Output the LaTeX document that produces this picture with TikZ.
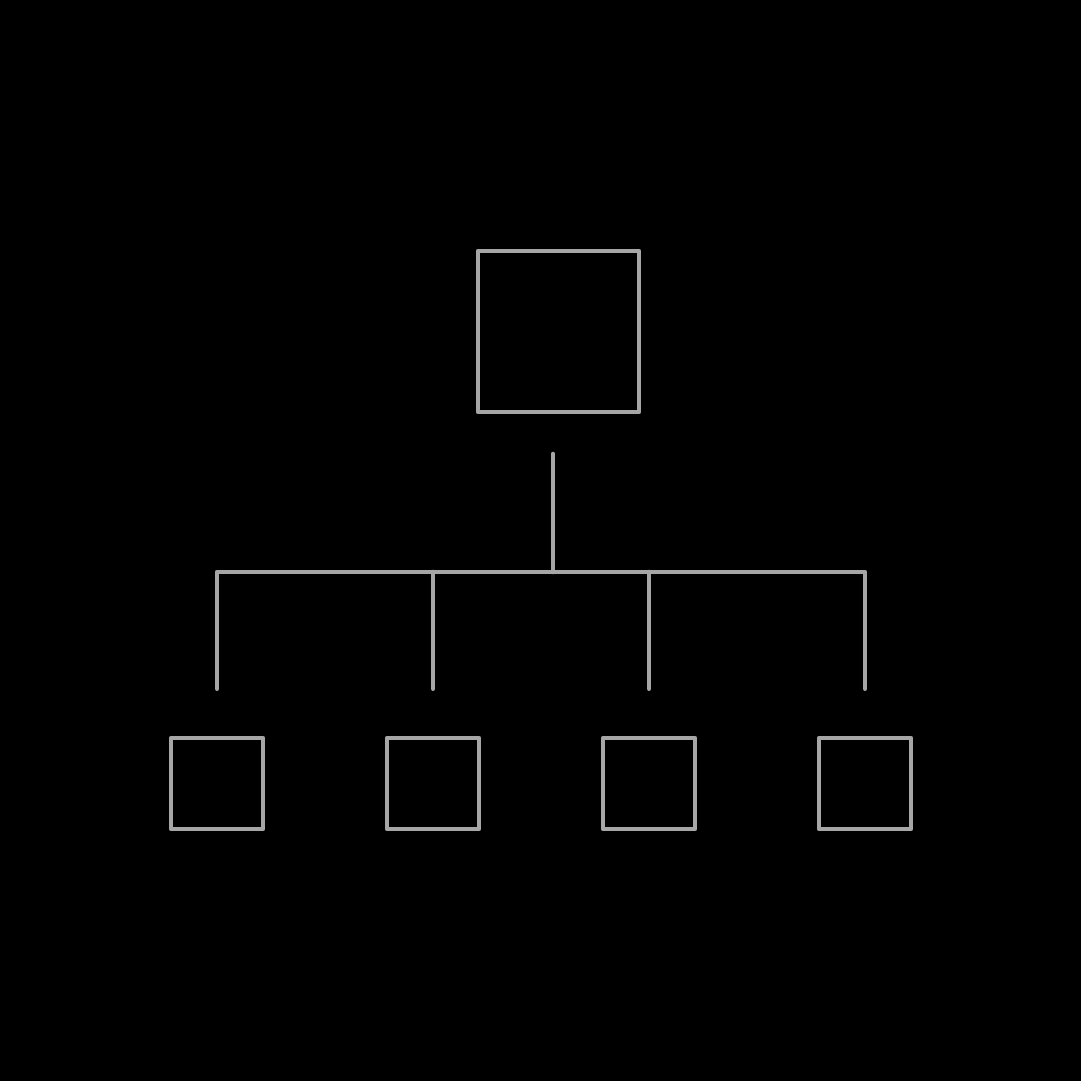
\documentclass[tikz,border=0pt]{standalone}
\usetikzlibrary{positioning}
\definecolor{linegray}{HTML}{A6A6A6}
\begin{document}
\begin{tikzpicture}[
  unit/.style={rectangle, draw=linegray, line width=1.3pt, line join=round, inner sep=0pt},
  head/.style={unit, minimum width=1.61cm, minimum height=1.61cm},
  member/.style={unit, minimum width=0.92cm, minimum height=0.91cm},
  link/.style={draw=linegray, line width=1.3pt, line cap=round, line join=round},
]

% Background and frame of the page
\fill[black] (0,0) rectangle (10.81,10.81);

% Head box at top
\node[head] (boss) at (5.585,7.495) {};

% Member boxes — bottom row
\node[member] (memA) at (2.17,2.975) {};
\node[member] (memB) at (4.33,2.975) {};
\node[member] (memC) at (6.49,2.975) {};
\node[member] (memD) at (8.65,2.975) {};

% Free ends of the connectors
\coordinate (trunkTop) at (5.53,6.27);
\coordinate (trunkBot) at (5.53,5.09);
\coordinate (busA) at (memA |- trunkBot);
\coordinate (busB) at (memB |- trunkBot);
\coordinate (busC) at (memC |- trunkBot);
\coordinate (busD) at (memD |- trunkBot);
\coordinate (dropA) at ([yshift=0.47cm]memA.north);
\coordinate (dropB) at ([yshift=0.47cm]memB.north);
\coordinate (dropC) at ([yshift=0.47cm]memC.north);
\coordinate (dropD) at ([yshift=0.47cm]memD.north);

% Trunk and bus
\draw[link] (trunkTop) -- (trunkBot);
\draw[link] (dropA) -- (busA) -- (busD) -- (dropD);
\draw[link] (busB) -- (dropB);
\draw[link] (busC) -- (dropC);

\end{tikzpicture}
\end{document}
